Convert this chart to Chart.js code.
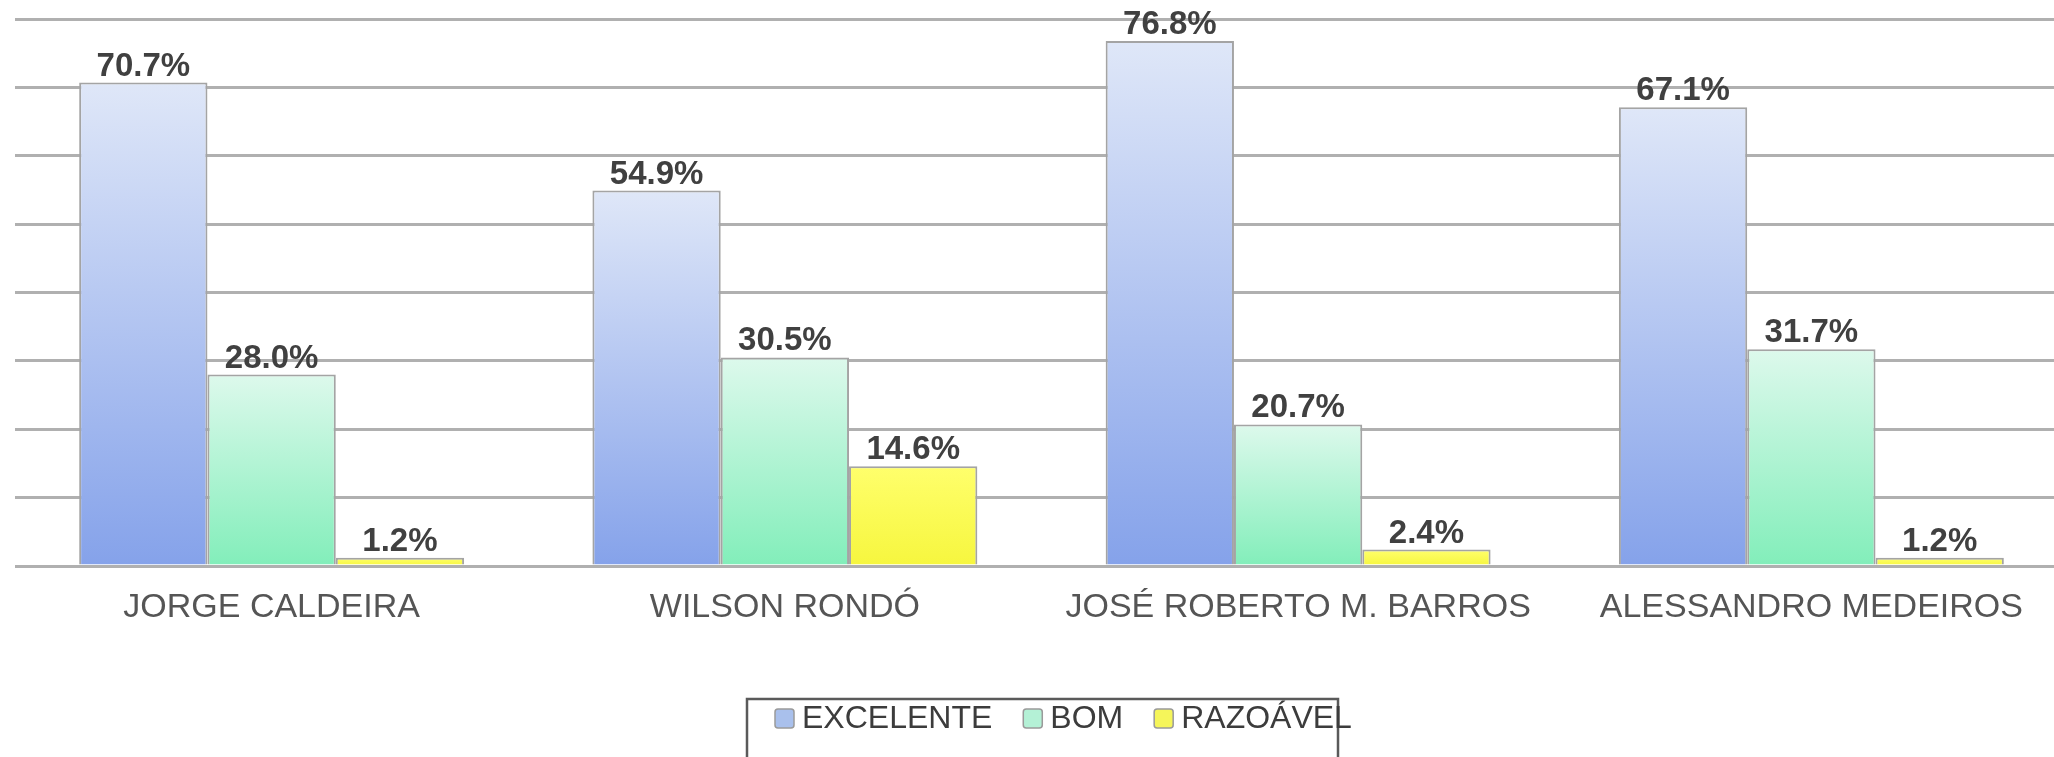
<!DOCTYPE html>
<html>
<head>
<meta charset="utf-8">
<script src="https://cdn.jsdelivr.net/npm/chart.js@4/dist/chart.umd.min.js"></script>
<style>
  html, body { margin: 0; padding: 0; background: #fff; overflow: hidden; }
  canvas { display: block; }
</style>
</head>
<body>
<canvas id="chart" width="2070" height="757"></canvas>
<script>
const categories = ['JORGE CALDEIRA', 'WILSON RONDÓ', 'JOSÉ ROBERTO M. BARROS', 'ALESSANDRO MEDEIROS'];
const seriesNames = ['EXCELENTE', 'BOM', 'RAZOÁVEL'];
const excelente = [70.7, 54.9, 76.8, 67.1];
const bom = [28.0, 30.5, 20.7, 31.7];
const razoavel = [1.2, 14.6, 2.4, 1.2];
const yTicks = [0, 10, 20, 30, 40, 50, 60, 70, 80];

// top / bottom colour of each series' gradient, plus the legend swatch colour
const shades = [
  { top: '#dfe7f8', bottom: '#85a2ea', swatch: '#a9c0ec' },
  { top: '#ddf9ec', bottom: '#82eeba', swatch: '#b4f1d6' },
  { top: '#ffff6c', bottom: '#f6f63e', swatch: '#f5f55a' },
];

function barFill(i) {
  return ctx => {
    const c = ctx.chart;
    if (!c.chartArea || ctx.raw === undefined) return shades[i].swatch;
    const y = c.scales.y;
    const g = c.ctx.createLinearGradient(0, y.getPixelForValue(ctx.raw), 0, y.getPixelForValue(0));
    g.addColorStop(0, shades[i].top);
    g.addColorStop(1, shades[i].bottom);
    return g;
  };
}

const dataLabels = {
  id: 'dataLabels',
  afterDatasetsDraw(chart) {
    const g = chart.ctx;
    g.save();
    g.font = 'bold 33px "Liberation Sans", Arial, sans-serif';
    g.fillStyle = '#404040';
    g.textAlign = 'center';
    g.textBaseline = 'alphabetic';
    chart.data.datasets.forEach((ds, di) => {
      chart.getDatasetMeta(di).data.forEach((bar, i) => {
        g.fillText(ds.data[i].toFixed(1) + '%', bar.x, bar.y - 7);
      });
    });
    g.restore();
  }
};

// Excel-style boxed legend, cut off by the bottom edge like the original
const boxLegend = {
  id: 'boxLegend',
  afterDraw(chart) {
    const g = chart.ctx;
    g.save();
    g.strokeStyle = '#5a5a5a';
    g.lineWidth = 2.5;
    g.strokeRect(747, 699, 591, 80);
    g.font = '32px "Liberation Sans", Arial, sans-serif';
    g.textBaseline = 'middle';
    let x = 775;
    chart.data.datasets.forEach((ds, i) => {
      g.fillStyle = shades[i].swatch;
      g.strokeStyle = '#9a9a9a';
      g.lineWidth = 1.5;
      g.beginPath();
      g.roundRect(x, 709, 19, 19, 3);
      g.fill(); g.stroke();
      x += 27;
      g.fillStyle = '#3c3c3c';
      g.fillText(ds.label, x, 719);
      x += g.measureText(ds.label).width + 31;
    });
    g.restore();
  }
};

new Chart(document.getElementById('chart'), {
  type: 'bar',
  data: {
    labels: categories,
    datasets: [excelente, bom, razoavel].map((d, i) => ({
      label: seriesNames[i],
      data: d,
      backgroundColor: barFill(i),
      borderColor: '#a4a4a4',
      borderWidth: 2,
      categoryPercentage: 0.75,
      barPercentage: 1,
    })),
  },
  options: {
    responsive: false,
    animation: false,
    devicePixelRatio: 1,
    layout: { padding: { left: 15, right: 2, top: 19, bottom: 0 } },
    plugins: { legend: { display: false }, tooltip: { enabled: false } },
    scales: {
      x: {
        grid: { display: false, drawTicks: false },
        border: { display: false },
        ticks: {
          color: '#555555',
          font: { size: 34, family: '"Liberation Sans", Arial, sans-serif' },
          padding: 21, maxRotation: 0, autoSkip: false,
        },
        afterFit: s => { s.height = 757 - 566; },
      },
      y: {
        min: yTicks[0], max: yTicks[yTicks.length - 1],
        afterBuildTicks: s => { s.ticks = yTicks.map(v => ({ value: v })); },
        grid: { color: '#b0b0b0', lineWidth: 3, drawTicks: false },
        border: { display: false },
        ticks: { display: false },
      },
    },
  },
  plugins: [dataLabels, boxLegend],
});
</script>
</body>
</html>
